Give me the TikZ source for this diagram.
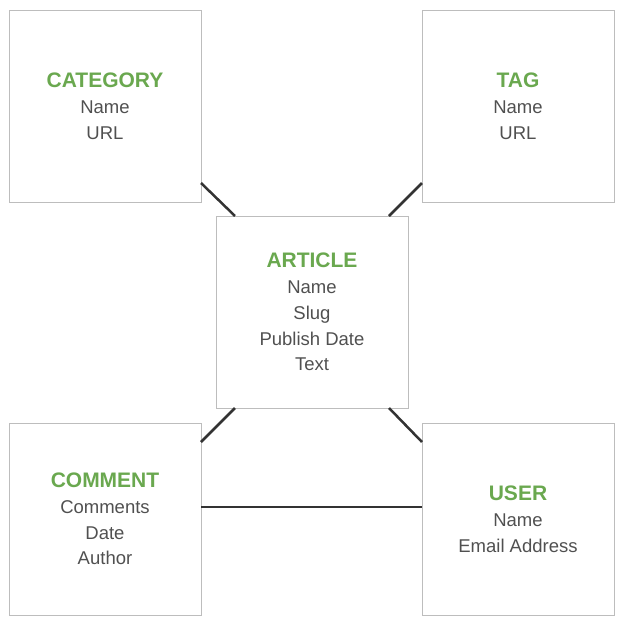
\documentclass[tikz,border=0pt]{standalone}
\usepackage{fontspec}
\setmainfont{Liberation Sans}
\usepackage{xcolor}
\definecolor{cTitle}{HTML}{6AA84F}
\definecolor{cText}{HTML}{505050}
\definecolor{cBorder}{HTML}{BDBDBD}
\definecolor{cLink}{HTML}{333333}
\usepackage{tikz}
\usetikzlibrary{positioning}
\tikzset{
  node-entity/.style={draw=cBorder,line width=1pt,minimum size=192pt,
    inner sep=0pt,outer sep=0pt,align=center,text=cText,
    font=\fontsize{18.5}{25.8}\selectfont},
  edge-rel/.style={draw=cLink,line width=2.5pt},
}
\newcommand{\enttitle}[1]{{\fontsize{21}{25.8}\selectfont\bfseries\color{cTitle}#1}}

\begin{document}
\begin{tikzpicture}[x=1pt,y=-1pt,node distance=221pt]
  \useasboundingbox (0,0) rectangle (627,630);
  \node[node-entity] (cat) at (105,106) {\enttitle{CATEGORY}\\Name\\URL};
  \node[node-entity,right=of cat] (tag) {\enttitle{TAG}\\Name\\URL};
  \node[node-entity,below=of cat] (com) {\enttitle{COMMENT}\\Comments\\Date\\Author};
  \node[node-entity,right=of com] (usr) {\enttitle{USER}\\Name\\Email Address};
  \node[node-entity] (art) at (312,312) {\enttitle{ARTICLE}\\Name\\Slug\\Publish Date\\Text};
  % relations, offset from the corners
  \draw[edge-rel] ([yshift=19pt]cat.south east) -- ([xshift=19pt]art.north west);
  \draw[edge-rel] ([yshift=19pt]tag.south west) -- ([xshift=-19pt]art.north east);
  \draw[edge-rel] ([xshift=19pt]art.south west) -- ([yshift=-19pt]com.north east);
  \draw[edge-rel] ([xshift=-19pt]art.south east) -- ([yshift=-19pt]usr.north west);
  \draw[edge-rel] ([yshift=12pt]com.east) -- ([yshift=12pt]usr.west);
\end{tikzpicture}
\end{document}
